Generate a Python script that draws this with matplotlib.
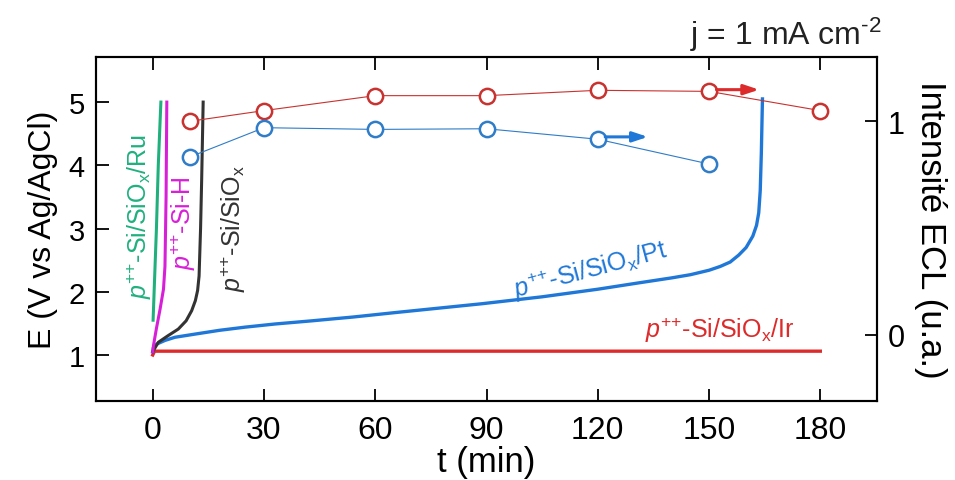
import matplotlib
matplotlib.use("Agg")
import matplotlib.pyplot as plt

plt.rcParams['font.family'] = ['Liberation Sans', 'DejaVu Sans']
plt.rcParams['mathtext.fontset'] = 'custom'
plt.rcParams['mathtext.rm'] = 'Liberation Sans'
plt.rcParams['mathtext.it'] = 'Liberation Sans:italic'

# chronopotentiometry curves (t in min, E in V vs Ag/AgCl)
t_ru = [0.1, 0.5, 1.0, 1.5, 2.2]
e_ru = [1.55, 2.2, 3.0, 4.0, 5.0]

t_sih = [0.0, 0.2, 1.0, 2.0, 2.9, 3.3, 3.6, 3.8]
e_sih = [1.05, 1.15, 1.42, 1.73, 2.04, 2.4, 3.5, 5.0]

t_siox = [0.0, 1.5, 4.0, 6.9, 9.0, 10.5, 11.5, 12.1, 12.5, 12.9, 13.2, 13.6]
e_siox = [1.05, 1.2, 1.3, 1.41, 1.54, 1.7, 1.86, 2.02, 2.25, 3.0, 3.78, 5.0]

t_pt = [0, 0.2, 1, 3.3, 6, 11.4, 18, 24.9, 33, 42.9, 54, 65.3, 77, 88.7, 105,
        120, 131, 140, 145, 150, 153, 155.7, 158, 160, 161.8, 162.8, 163.4,
        163.8, 164.1, 164.4]
e_pt = [1.05, 1.12, 1.17, 1.23, 1.28, 1.33, 1.39, 1.44, 1.49, 1.54, 1.60,
        1.67, 1.74, 1.81, 1.92, 2.04, 2.14, 2.22, 2.27, 2.34, 2.40, 2.47,
        2.58, 2.70, 2.88, 3.05, 3.25, 3.6, 4.2, 5.05]

t_ir = [0, 0.5, 180]
e_ir = [1.0, 1.06, 1.06]

# ECL intensity (a.u.)
t_ecl_ir = [10, 30, 60, 90, 120, 150, 180]
ecl_ir = [1.0, 1.05, 1.12, 1.12, 1.145, 1.14, 1.05]
t_ecl_pt = [10, 30, 60, 90, 120, 150]
ecl_pt = [0.833, 0.97, 0.962, 0.965, 0.916, 0.80]

c_red = '#dd2a2a'
c_blue = '#1f78d8'
c_green = '#20b07e'
c_mag = '#d81fd8'
c_blk = '#333333'
c_red_m = '#c8322f'
c_blue_m = '#2f7cc8'

fig = plt.figure(figsize=(9.55, 4.81), dpi=100)
ax = fig.add_axes([0.1005, 0.164, 0.8175, 0.715])
ax2 = ax.twinx()

ax.plot(t_ir, e_ir, color=c_red, lw=2.4, zorder=3)
ax.plot(t_pt, e_pt, color=c_blue, lw=2.4, zorder=3)
ax.plot(t_siox, e_siox, color=c_blk, lw=2.2, zorder=3)
ax.plot(t_sih, e_sih, color=c_mag, lw=2.2, zorder=3)
ax.plot(t_ru, e_ru, color=c_green, lw=2.2, zorder=3)

ax2.plot(t_ecl_ir, ecl_ir, color=c_red_m, lw=0.8, marker='o', ms=11,
         mfc='white', mec=c_red_m, mew=1.8)
ax2.plot(t_ecl_pt, ecl_pt, color=c_blue_m, lw=0.8, marker='o', ms=11,
         mfc='white', mec=c_blue_m, mew=1.8)

# arrows pointing to the right axis
ax2.annotate('', xy=(163.5, 1.148), xytext=(152, 1.148),
             arrowprops=dict(arrowstyle='-|>,head_length=0.9,head_width=0.3',
                             color=c_red, lw=2.2, shrinkA=0, shrinkB=0))
ax2.annotate('', xy=(133.5, 0.927), xytext=(122, 0.927),
             arrowprops=dict(arrowstyle='-|>,head_length=0.9,head_width=0.3',
                             color=c_blue, lw=2.2, shrinkA=0, shrinkB=0))

ax.set_xlim(-15.3, 195.2)
ax.set_ylim(0.27, 5.71)
ax2.set_ylim(-0.31, 1.30)

ax.set_xticks([0, 30, 60, 90, 120, 150, 180])
ax.set_yticks([1, 2, 3, 4, 5])
ax2.set_yticks([0, 1])

ax.tick_params(axis='x', direction='in', top=True, length=9, width=1.3,
               labelsize=23, pad=10)
ax.tick_params(axis='y', direction='in', length=9, width=1.3, labelsize=21, pad=8)
ax2.tick_params(axis='y', direction='in', length=9, width=1.3, labelsize=22, pad=8)
for a in (ax, ax2):
    for s in a.spines.values():
        s.set_linewidth(1.5)

ax.set_xlabel('t (min)', fontsize=25, labelpad=0)
ax.set_ylabel('E (V vs Ag/AgCl)', fontsize=23, labelpad=8)
ax2.set_ylabel('Intensité ECL (u.a.)', fontsize=25, rotation=270, labelpad=30)

pp = r'$p^\text{++}$'
sub = r'$_\text{x}$'
ax.text(-3.5, 3.2, pp + '-Si/SiO' + sub + '/Ru', color=c_green, fontsize=18,
        rotation=90, ha='center', va='center')
ax.text(8.2, 3.1, pp + '-Si-H', color=c_mag, fontsize=18,
        rotation=90, ha='center', va='center')
ax.text(21.7, 3.02, pp + '-Si/SiO' + sub, color=c_blk, fontsize=18,
        rotation=90, ha='center', va='center')
ax.text(118, 2.36, pp + '-Si/SiO' + sub + '/Pt', color=c_blue, fontsize=18,
        rotation=15, ha='center', va='center')
ax.text(153, 1.41, pp + '-Si/SiO' + sub + '/Ir', color=c_red, fontsize=18,
        ha='center', va='center')

fig.text(0.823, 0.927, r'j = 1 mA cm$^\text{-2}$', fontsize=23, ha='center',
         va='center', color='#222222')

fig.savefig('out.png', dpi=100)
